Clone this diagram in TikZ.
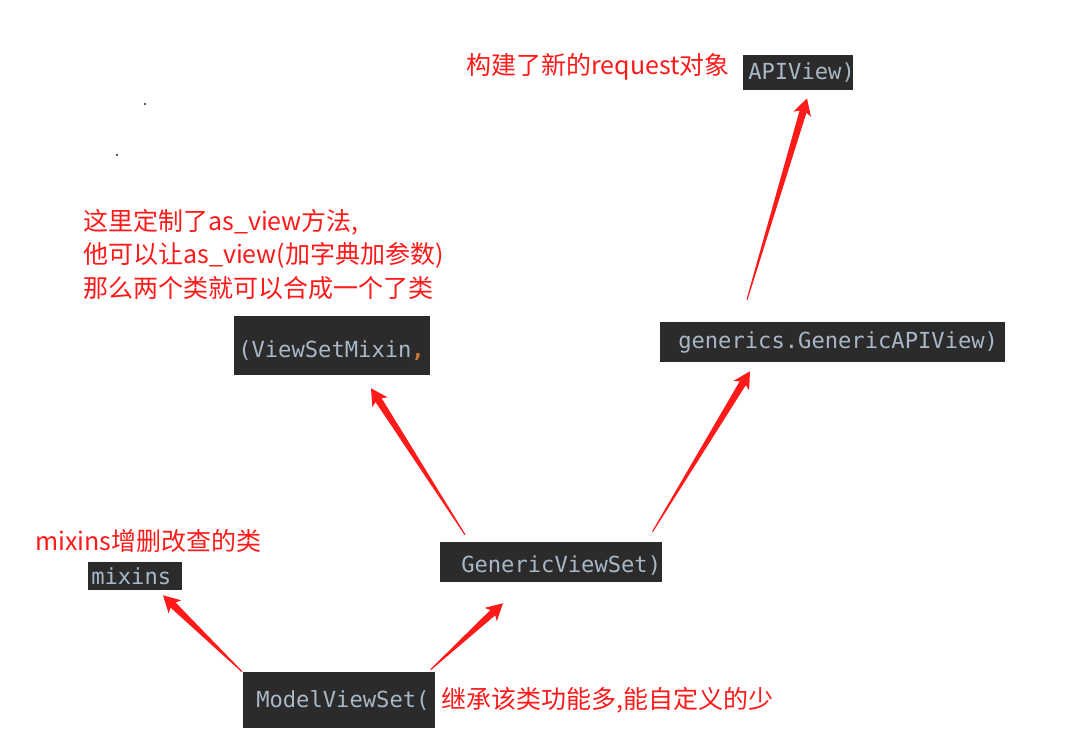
\documentclass[tikz,border=0pt]{standalone}
\usepackage{fontspec}
\newfontfamily\cjkfont{Noto Sans CJK SC}
\newfontfamily\codefont{DejaVu Sans Mono}
\usetikzlibrary{positioning, calc}
\definecolor{codebg}{RGB}{43,43,43}
\definecolor{codefg}{RGB}{169,183,198}
\definecolor{codeorange}{RGB}{204,120,50}
\definecolor{notered}{RGB}{255,26,26}
\definecolor{dotgray}{RGB}{90,90,90}

% tapered red arrow from #1 (thin tail) to #2 (tip)
\newcommand{\redarrow}[2]{%
  \coordinate (ab) at ($(#2)!10.5pt!(#1)$);
  \coordinate (ac) at ($(#2)!12.5pt!(#1)$);
  \fill[notered] ($(#1)!0.4pt!90:(#2)$) -- ($(ab)!2.7pt!90:(#2)$) -- ($(ac)!6.8pt!90:(#2)$)
    -- (#2) -- ($(ac)!6.8pt!-90:(#2)$) -- ($(ab)!2.7pt!-90:(#2)$) -- ($(#1)!0.4pt!-90:(#2)$) -- cycle;
}

\begin{document}
\begin{tikzpicture}[
    x=0.75pt, y=-0.75pt,
    codebox/.style={anchor=west, fill=codebg, text=codefg, inner xsep=0pt, inner ysep=0pt,
                    align=left, font=\codefont\fontsize{16.6}{20}\selectfont},
    note/.style={text=notered, inner sep=0pt, align=left,
                 font=\cjkfont\fontsize{18.75}{25.5}\selectfont}
]
\useasboundingbox (0,0) rectangle (1065,756);
\fill[white] (0,0) rectangle (1065,756);

% stray dots
\fill[dotgray] (144,103) rectangle (146,105);
\fill[dotgray] (116,154) rectangle (118,156);

% --- APIView ---
\node[codebox, text width=82.5pt, minimum height=26.25pt] (api) at (743,72.5) {\hspace*{3.75pt}APIView)};
\node[note, left=9.75pt of api, yshift=4pt] (reqnote) {构建了新的request对象};

% --- ViewSetMixin ---
\node[codebox, text width=147pt, minimum height=44.25pt] (vsm) at (234,345.5)
    {\rule{0pt}{21pt}\hspace*{3pt}(ViewSetMixin\textcolor{codeorange}{\bfseries ,}};
\node[note, anchor=west] (customnote) at (83,254.5)
    {这里定制了as\_view方法,\\他可以让as\_view(加字典加参数)\\那么两个类就可以合成一个了类};

% --- GenericAPIView ---
\node[codebox, text width=258.75pt, minimum height=30pt] (gen) at (660,342) {\hspace*{13.5pt}generics.GenericAPIView)};

% --- GenericViewSet ---
\node[codebox, text width=166.5pt, minimum height=30pt] (gvs) at (440,562)
    {\rule{0pt}{18.5pt}\hspace*{15.75pt}GenericViewSet)};

% --- mixins ---
\node[codebox, text width=70.5pt, minimum height=21pt] (mix) at (88,576) {\hspace*{2.25pt}mixins};
\node[note, anchor=west] (crudnote) at (35,541) {mixins增删改查的类};

% --- ModelViewSet ---
\node[codebox, text width=144pt, minimum height=42pt] (mvs) at (243,700) {\hspace*{9.75pt}ModelViewSet(};
\node[note, right=4.5pt of mvs] (inheritnote) {继承该类功能多,能自定义的少};

% arrow ends
\coordinate (t1) at ($(mvs.north west)+(-1,0)$);
\coordinate (h1) at ($(mix.south west)+(75,5)$);
\coordinate (t2) at ($(mvs.north east)+(-5,-2)$);
\coordinate (h2) at ($(gvs.south west)+(63,21)$);
\coordinate (t3) at ($(gvs.north west)+(25,-7)$);
\coordinate (h3) at ($(vsm.south west)+(137,13)$);
\coordinate (t4) at ($(gvs.north east)+(-10,-10)$);
\coordinate (h4) at ($(gen.south west)+(90,9)$);
\coordinate (t5) at ($(gen.north west)+(87,-22)$);
\coordinate (h5) at ($(api.south west)+(64,8)$);

% --- arrows ---
\redarrow{t1}{h1}
\redarrow{t2}{h2}
\redarrow{t3}{h3}
\redarrow{t4}{h4}
\redarrow{t5}{h5}

\end{tikzpicture}
\end{document}
